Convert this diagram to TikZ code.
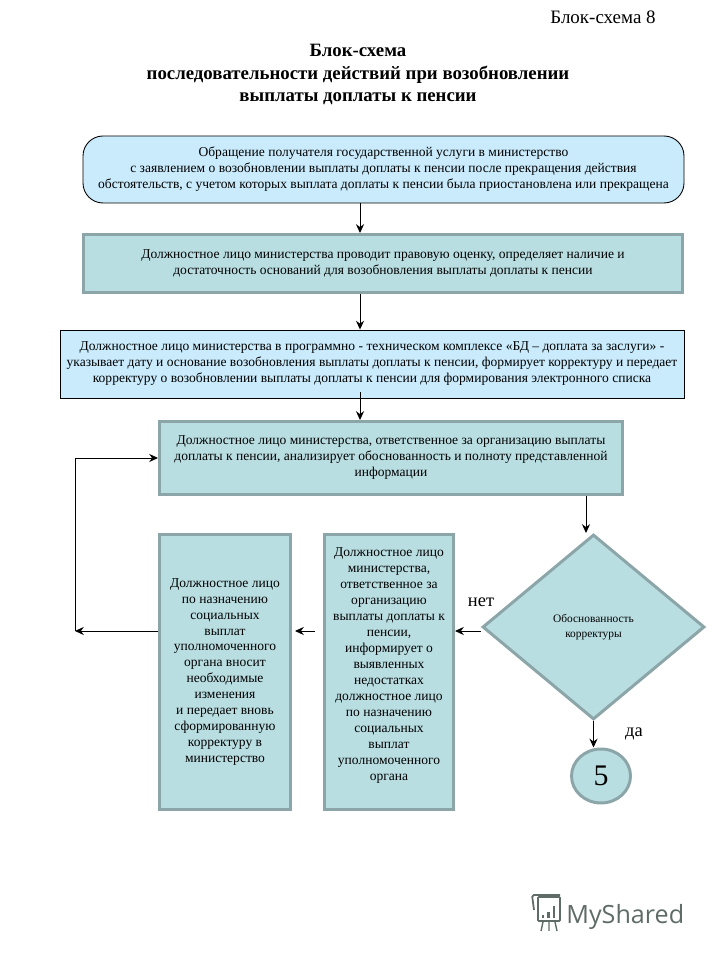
\documentclass[tikz,border=0pt]{standalone}
\usepackage{fontspec}
\setmainfont{Liberation Serif}
\newfontfamily\logofont{Open Sans}
\usepackage{tikz}
\usetikzlibrary{shapes.geometric, arrows.meta, positioning, calc}
\definecolor{paleblue}{HTML}{C9EBFC}
\definecolor{tealfill}{HTML}{B9DEE2}
\definecolor{tealedge}{HTML}{8BA5A8}
\definecolor{logogray}{HTML}{5E6B67}
\tikzset{
    bluebox/.style={draw=black, line width=0.5pt, fill=paleblue, align=center},
    tealbox/.style={draw=tealedge, line width=1.7pt, fill=tealfill, align=center},
    boxtext/.style={font=\fontsize{7.7}{9.1}\selectfont},
    flow/.style={->, line width=0.55pt}
}

\begin{document}
\begin{tikzpicture}[>={Stealth[length=5pt, width=4.6pt]}, every node/.style={inner sep=2pt}]
    \useasboundingbox (0, 0) rectangle (14.4, 19.2);

    % Header
    \node[font=\fontsize{10.8}{12}\selectfont] (sheet) at (12.06, 18.85) {Блок-схема 8};
    \node[align=center, font=\bfseries\fontsize{10.7}{13}\selectfont] (title) at (7.16, 17.71) {Блок-схема\\
        последовательности действий при возобновлении\\
        выплаты доплаты к пенсии};

    % Request (x=383, y=169)
    \node[bluebox, boxtext, rounded corners=0.4cm, minimum width=12.02cm, minimum height=1.34cm] (request) at (7.67, 15.81) {Обращение получателя государственной услуги в министерство\\
        с заявлением о возобновлении выплаты доплаты к пенсии после прекращения действия\\
        обстоятельств, с учетом которых выплата доплаты к пенсии была приостановлена или прекращена};

    % Legal review (x=383, y=263)
    \node[tealbox, boxtext, minimum width=11.98cm, minimum height=1.16cm] (review) at (7.66, 13.93) {Должностное лицо министерства проводит правовую оценку, определяет наличие и\\
        достаточность оснований для возобновления выплаты доплаты к пенсии};

    % Database entry (x=372, y=364)
    \node[bluebox, boxtext, minimum width=12.48cm, minimum height=1.36cm] (entry) at (7.44, 11.92) {Должностное лицо министерства в программно - техническом комплексе «БД – доплата за заслуги» -\\
        указывает дату и основание возобновления выплаты доплаты к пенсии, формирует корректуру и передает\\
        корректуру о возобновлении выплаты доплаты к пенсии для формирования электронного списка};

    % Analysis (x=391, y=458)
    \node[tealbox, boxtext, minimum width=9.26cm, minimum height=1.46cm] (analysis) at (7.82, 10.04) {Должностное лицо министерства, ответственное за организацию выплаты\\
        доплаты к пенсии, анализирует обоснованность и полноту представленной\\
        информации};

    % Correction (x=225, y=672)
    \node[tealbox, boxtext, minimum width=2.62cm, minimum height=5.5cm] (correction) at (4.5, 5.76) {Должностное лицо\\
        по назначению\\ социальных\\ выплат\\ уполномоченного\\ органа вносит\\ необходимые\\ изменения\\
        и передает вновь\\ сформированную\\ корректуру в\\ министерство};

    % Notice (x=389, y=672)
    \node[tealbox, boxtext, minimum width=2.58cm, minimum height=5.5cm] (notice) at (7.78, 5.76) {Должностное лицо\\
        министерства,\\ ответственное за\\ организацию\\ выплаты доплаты к\\ пенсии,\\ информирует о\\ выявленных\\ недостатках\\
        должностное лицо\\ по назначению\\ социальных\\ выплат\\ уполномоченного\\ органа\\ ~};

    % Decision (x=593, y=627)
    \node[tealbox, diamond, font=\fontsize{6.5}{8.4}\selectfont, inner sep=0pt, minimum width=4.44cm, minimum height=3.7cm] (decision) at (11.87, 6.66) {Обоснованность\\ корректуры};

    % Exit (x=601, y=776)
    \node[tealbox, ellipse, font=\fontsize{17}{20}\selectfont, inner sep=0pt, minimum width=1.18cm, minimum height=1.08cm] (exit) at (12.02, 3.68) {5};

    % Branch labels
    \node[font=\fontsize{10.5}{12}\selectfont] (no) at (9.62, 7.15) {нет};
    \node[font=\fontsize{10.5}{12}\selectfont] (yes) at (12.68, 4.53) {да};

    % Free ends of connectors
    \coordinate (axis) at (7.2, 12.2);
    \coordinate (drop) at (11.72, 8);
    \coordinate (gapa) at (6.3, 6.58);
    \coordinate (gapb) at (5.9, 6.58);
    \coordinate (turn) at (1.5, 6.58);

    % Arrows
    \draw[flow] (request.south -| axis) -- (review.north -| axis);
    \draw[flow] (review.south -| axis) -- (entry.north -| axis);
    \draw[flow] (axis |- entry.south) ++(0, 0.12) -- (analysis.north -| axis);
    \draw[flow] (analysis.south -| drop) -- (decision.north -| drop);
    \draw[flow] (decision.west |- gapa) -- (notice.east |- gapa);
    \draw[flow] (gapa) -- (gapb);
    \draw[flow] (correction.west |- turn) -- (turn);
    \draw[flow] (turn) |- (analysis.west);
    \draw[flow] (decision.south) -- (exit.north -| decision.south);

    % Watermark
    \node[font=\logofont\fontsize{14.3}{16}\selectfont, text=logogray, anchor=west, inner sep=0pt] (mark) at (11.32, 0.86) {MyShared};
    \draw[logogray, line width=1pt, rounded corners=0.5pt] (10.76, 1.26) rectangle (11.2, 0.78);
    \draw[logogray, line width=1pt, rounded corners=1pt] (10.68, 1.0) -- (10.64, 1.3) -- (11.2, 1.3);
    \draw[logogray, line width=1.2pt] (10.86, 0.84) -- (10.86, 0.9) (10.97, 0.84) -- (10.97, 0.96) (11.08, 0.84) -- (11.08, 1.08);
    \draw[logogray, line width=0.8pt] (10.86, 0.76) -- (10.82, 0.58) (10.98, 0.76) -- (10.98, 0.58) (11.1, 0.76) -- (11.14, 0.58);
\end{tikzpicture}
\end{document}
